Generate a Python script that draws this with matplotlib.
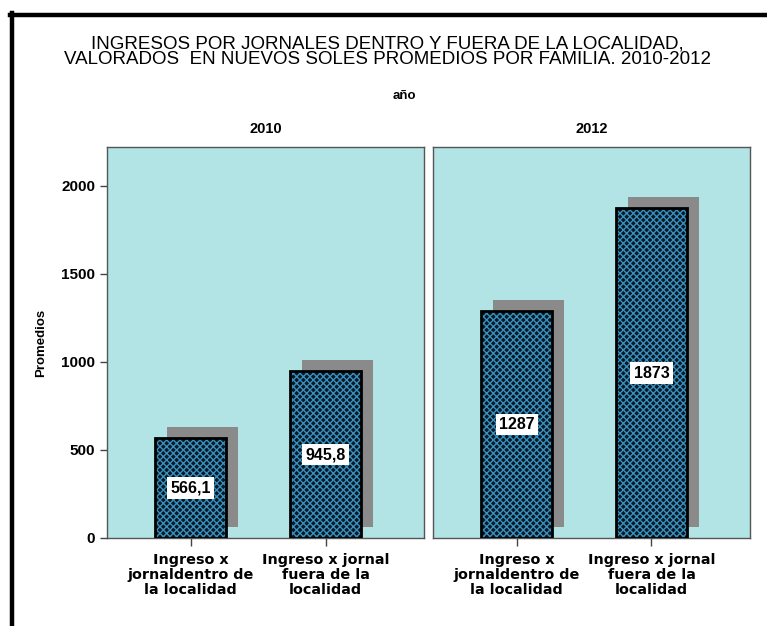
import matplotlib.pyplot as plt
import matplotlib.transforms as mtransforms
from matplotlib.lines import Line2D

# Data
years = ['2010', '2012']
categories = ['Ingreso x\njornaldentro de\nla localidad', 'Ingreso x jornal\nfuera de la\nlocalidad']
dentro = [566.1, 1287]
fuera = [945.8, 1873]
yticks = [0, 500, 1000, 1500, 2000]

values_by_year = [[dentro[0], fuera[0]], [dentro[1], fuera[1]]]

def fmt(v):
    if float(v).is_integer():
        return str(int(v))
    return f'{v:.1f}'.replace('.', ',')

fig = plt.figure(figsize=(7.67, 6.26), dpi=100)

panel_bg = '#b2e4e6'
bar_dark = '#061826'
bar_light = '#3a8fbd'
shadow = '#8a8a8a'

plt.rcParams['hatch.linewidth'] = 1.0

for i, year in enumerate(years):
    left = 0.1395 if i == 0 else 0.5645
    ax = fig.add_axes([left, 0.1406, 0.4133, 0.6246])
    ax.set_facecolor(panel_bg)
    x = [0, 1]
    vals = values_by_year[i]

    # shadow bars shifted right and up
    off = mtransforms.ScaledTranslation(0.12, 0.11, fig.dpi_scale_trans)
    ax.bar(x, vals, width=0.526, color=shadow, linewidth=0,
           transform=ax.transData + off, zorder=1)
    # main bars with lattice pattern
    ax.bar(x, vals, width=0.526, color=bar_dark, edgecolor=bar_light,
           hatch='xxxxx', linewidth=0, zorder=2)
    ax.bar(x, vals, width=0.526, fill=False, edgecolor='black',
           linewidth=2.0, zorder=3)

    for xi, v in zip(x, vals):
        ax.text(xi, v / 2, fmt(v), ha='center', va='center', fontsize=11.5,
                fontweight='bold', family='Liberation Sans', zorder=4,
                bbox=dict(boxstyle='square,pad=0.2', fc='white', ec='none'))

    ax.set_xlim(-0.62, 1.73)
    ax.set_ylim(0, 2220)
    ax.set_xticks(x)
    ax.set_xticklabels(categories, fontsize=10.4, fontweight='bold',
                       family='DejaVu Sans', linespacing=1.1)
    ax.tick_params(axis='x', length=6, width=1, color='#444444', pad=5)
    for s in ax.spines.values():
        s.set_color('#555555')
        s.set_linewidth(1.0)
    if i == 0:
        ax.set_yticks(yticks)
        ax.set_yticklabels([str(t) for t in yticks], fontsize=11,
                           fontweight='bold', family='Liberation Sans')
        ax.tick_params(axis='y', length=5, width=1, color='#444444')
        ax.set_ylabel('Promedios', fontsize=9.5, fontweight='bold',
                      family='Liberation Sans', labelpad=10)
    else:
        ax.set_yticks([])
    ax.set_title(year, fontsize=10.5, fontweight='bold',
                 family='Liberation Sans', pad=10)

fig.text(0.527, 1 - 96 / 626, 'año', ha='center', va='center', fontsize=9.5,
         fontweight='bold', family='Liberation Sans')
fig.text(0.505, 1 - 52 / 626,
         'INGRESOS POR JORNALES DENTRO Y FUERA DE LA LOCALIDAD,\n'
         'VALORADOS  EN NUEVOS SOLES PROMEDIOS POR FAMILIA. 2010-2012',
         ha='center', va='center', fontsize=13.5, family='Liberation Sans',
         linespacing=0.9)

# outer frame (left and top only)
fig.add_artist(Line2D([12 / 767, 12 / 767], [0, 1 - 13 / 626], color='black',
                      linewidth=3.2, transform=fig.transFigure))
fig.add_artist(Line2D([10 / 767, 1], [1 - 15 / 626, 1 - 15 / 626], color='black',
                      linewidth=3.2, transform=fig.transFigure))

fig.savefig('out.png', dpi=100, facecolor='white')
